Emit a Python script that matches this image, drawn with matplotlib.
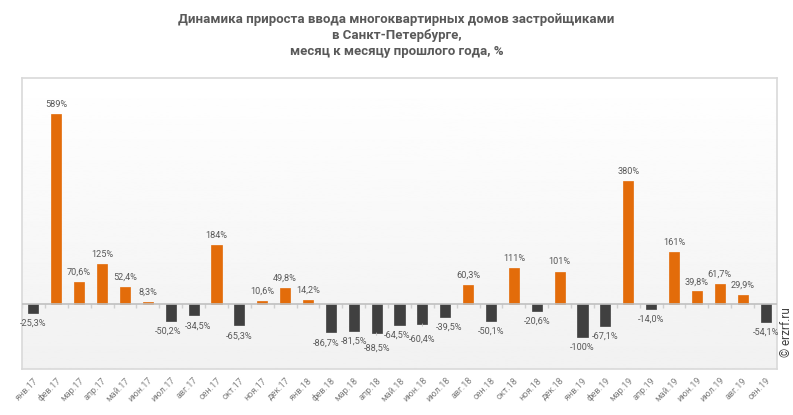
import numpy as np
import matplotlib.pyplot as plt

plt.rcParams['font.family'] = ['Roboto', 'DejaVu Sans']

months = ["янв", "фев", "мар", "апр", "май", "июн",
          "июл", "авг", "сен", "окт", "ноя", "дек"]
years = ["17"] * 12 + ["18"] * 12 + ["19"] * 9
labels = [f"{months[i % 12]}.{y}" for i, y in enumerate(years)]

values = [-25.3, 589, 70.6, 125, 52.4, 8.3, -50.2, -34.5, 184, -65.3, 10.6, 49.8,
          14.2, -86.7, -81.5, -88.5, -64.5, -60.4, -39.5, 60.3, -50.1, 111, -20.6, 101,
          -100, -67.1, 380, -14.0, 161, 39.8, 61.7, 29.9, -54.1]

# labels that sit further away with a leader line
leader = {"-88.5", "-60.4"}
# small sideways nudges (points) so neighbouring labels don't collide
nudge = {"-50.2": -2, "-34.5": 3, "-86.7": -3.5, "-64.5": -2, "-39.5": 3}


def fmt(v):
    if abs(v) >= 100:
        return f"{v:.0f}%"
    return f"{v:.1f}%".replace(".", ",")


orange = "#e36c0a"
dark = "#404040"
text_col = "#595959"

fig = plt.figure(figsize=(7.93, 4.15), dpi=100)
ax = fig.add_axes([22 / 793, 46 / 415, 755 / 793, 291 / 415])

# gradient background
grad = np.linspace(1.0, 0.945, 256).reshape(-1, 1)
ax.imshow(grad, extent=[0, 1, 0, 1], transform=ax.transAxes, cmap="gray",
          vmin=0, vmax=1, aspect="auto", zorder=0)

x = np.arange(len(values))
colors = [orange if v >= 0 else dark for v in values]
ax.bar(x, values, width=0.44, color=colors, edgecolor=colors, linewidth=0.5, zorder=3)

ax.axhline(0, color="#bfbfbf", linewidth=1.2, zorder=4)
ax.vlines(np.arange(len(values) + 1) - 0.5, -12, 0, color="#cfcfcf", linewidth=1, zorder=2)

for xi, v in zip(x, values):
    key = f"{v}"
    dx = nudge.get(key, 0)
    if v >= 0:
        ax.annotate(fmt(v), (xi, v), xytext=(dx, 7), textcoords="offset points",
                    ha="center", va="center", fontsize=6.6, color=text_col, zorder=5)
    elif key in leader:
        ax.annotate(fmt(v), (xi, v), xytext=(dx, -11), textcoords="offset points",
                    ha="center", va="center", fontsize=6.6, color=text_col, zorder=5,
                    arrowprops=dict(arrowstyle="-", color="#bfbfbf", lw=0.6,
                                    shrinkA=4, shrinkB=0))
    else:
        ax.annotate(fmt(v), (xi, v), xytext=(dx, -7.5), textcoords="offset points",
                    ha="center", va="center", fontsize=6.6, color=text_col, zorder=5)

ax.set_xlim(-0.5, len(values) - 0.5)
ax.set_ylim(-200, 700)
ax.set_yticks([])
ax.set_xticks(x)
ax.set_xticklabels(labels, rotation=45, ha="right", rotation_mode="anchor",
                   fontsize=6.5, color="#7f7f7f")
ax.tick_params(axis="x", length=0, pad=5)
for s in ax.spines.values():
    s.set_color("#d9d9d9")
    s.set_linewidth(1.2)

fig.text(0.5, 1 - 19 / 415, "Динамика прироста ввода многоквартирных домов застройщиками",
         ha="center", va="center", fontsize=9.5, fontweight="bold", color=text_col)
fig.text(0.5, 1 - 36 / 415, "в Санкт-Петербурге,",
         ha="center", va="center", fontsize=9.5, fontweight="bold", color=text_col)
fig.text(0.5, 1 - 52 / 415, "месяц к месяцу прошлого года, %",
         ha="center", va="center", fontsize=9.5, fontweight="bold", color=text_col)

fig.text(786 / 793, 1 - 332 / 415, "© erzrf.ru", rotation=90, ha="center", va="center",
         fontsize=8.5, color="#404040")

fig.savefig("out.png", dpi=100)
